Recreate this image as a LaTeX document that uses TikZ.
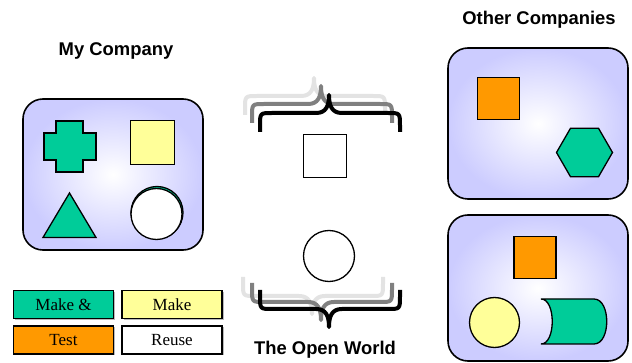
\documentclass[tikz,border=0pt]{standalone}
\usepackage{fontspec}
\setmainfont{Liberation Serif}
\setsansfont{Liberation Sans}
\usetikzlibrary{shapes.geometric,shadows}

\definecolor{makegreen}{HTML}{00CC99}
\definecolor{makeyellow}{HTML}{FFFF99}
\definecolor{testorange}{HTML}{FF9900}
\definecolor{boxlavender}{HTML}{CCCCFF}
\definecolor{bracegrey}{HTML}{808080}
\definecolor{bracelight}{HTML}{E3E3E3}

\begin{document}
\begin{tikzpicture}[x=1pt,y=-1pt,
  title/.style={font=\sffamily\bfseries\fontsize{18.4}{22}\selectfont, anchor=base},
  compbox/.style={draw, line width=1.6pt, rounded corners=20pt, shading=radial, inner color=white, outer color=boxlavender},
  part/.style={draw, line width=1.3pt, inner sep=0pt, outer sep=0pt},
  legend/.style={draw, line width=1.5pt, minimum width=100pt, minimum height=28pt, inner sep=0pt,
    font=\fontsize{17}{20}\selectfont, drop shadow={shadow xshift=1.5pt, shadow yshift=-1.5pt, fill=black!45, opacity=.6}},
  openbrace/.pic={\draw[line width=4pt, line join=round]
    (0,0) -- (0,-6) .. controls (0,-19) .. (12,-19) -- (56,-19)
    .. controls (66,-19) and (69,-26) .. (69,-37)
    .. controls (69,-26) and (72,-19) .. (82,-19) -- (128,-19)
    .. controls (140,-19) .. (140,-6) -- (140,0);}
]
\useasboundingbox (0,0) rectangle (632,363);

% my company
\node[title] (mytitle) at (116,56) {My Company};
\draw[compbox] (23,99) rectangle (203,250);
\draw[part, fill=makegreen] (56,121) -- (83,121) -- (83,133) -- (96,133) -- (96,160) -- (83,160)
  -- (83,172) -- (56,172) -- (56,160) -- (44,160) -- (44,133) -- (56,133) -- cycle;
\node[part, fill=makeyellow, minimum size=44pt] (mysquare) at (152.5,142.5) {};
\draw[part, fill=makegreen] (69.5,193) -- (96,237.5) -- (43,237.5) -- cycle;
\node[part, fill=makegreen, circle, minimum size=52pt] (mybehind) at (157,212.5) {};
\node[part, fill=white, circle, minimum size=51pt] (mycircle) at (156.5,214) {};

% legend
\node[legend, fill=makegreen] (makeand) at (63.5,304.5) {Make \&};
\node[legend, fill=makeyellow] (make) at (172,304.5) {Make};
\node[legend, fill=testorange] (test) at (63.5,340) {Test};
\node[legend, fill=white] (reuse) at (172,340) {Reuse};

% the open world
\pic[color=bracelight] at (245,115) {openbrace};
\pic[color=bracegrey] at (252,123) {openbrace};
\pic[color=black] at (260,132) {openbrace};
\node[part, fill=white, minimum size=43pt] (worldsquare) at (325,156) {};
\node[part, fill=white, circle, minimum size=51pt] (worldcircle) at (329,256) {};
\pic[color=bracelight, yscale=-1] at (243,277) {openbrace};
\pic[color=bracegrey, yscale=-1] at (252,283) {openbrace};
\pic[color=black, yscale=-1] at (260,290) {openbrace};
\node[title] (worldtitle) at (325,355) {The Open World};

% other companies
\node[title] (othertitle) at (539,24.5) {Other Companies};
\draw[compbox] (448,48) rectangle (628,199);
\node[part, fill=testorange, minimum size=42pt] (othersquare) at (498.5,98.5) {};
\node[part, fill=makegreen, regular polygon, regular polygon sides=6, minimum size=56pt] (otherhexa) at (584.5,152.5) {};
\draw[compbox] (448,215) rectangle (628,361);
\node[part, fill=testorange, minimum size=42pt] (lowsquare) at (535,257.5) {};
\node[part, fill=makeyellow, circle, minimum size=50pt] (lowcircle) at (494.5,322.5) {};
\draw[part, fill=makegreen] (541,299) -- (594,299) .. controls (611,299) and (611,344) .. (594,344)
  -- (541,344) .. controls (556,344) and (556,299) .. (541,299) -- cycle;
\end{tikzpicture}
\end{document}
